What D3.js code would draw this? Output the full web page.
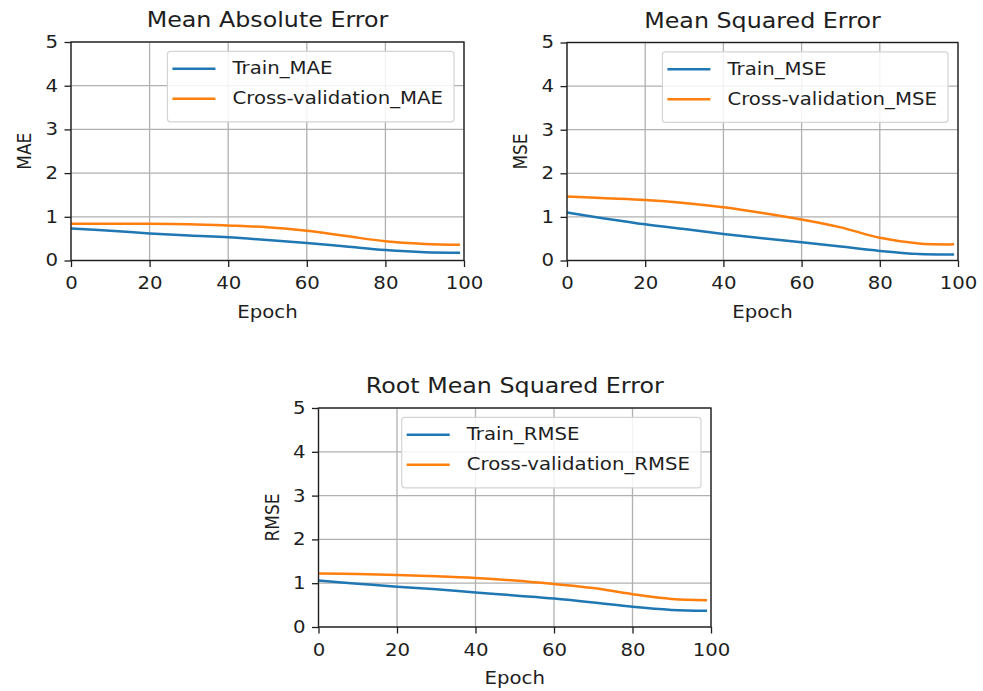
<!DOCTYPE html>
<html>
<head>
  <meta charset="utf-8">
  <script src="https://d3js.org/d3.v7.min.js"></script>
  <style>
    body { margin: 0; background: #fff; }
    svg { font-family: "DejaVu Sans", sans-serif; }
  </style>
</head>
<body>
  <div id="chart"></div>

  <script>
// epochs
const epochs = [0, 10, 20, 30, 40, 50, 60, 70, 80, 90, 99];

const maeTrain = [0.73, 0.68, 0.62, 0.57, 0.53, 0.47, 0.40, 0.32, 0.24, 0.19, 0.18];
const maeVal   = [0.84, 0.84, 0.84, 0.83, 0.80, 0.76, 0.68, 0.56, 0.44, 0.38, 0.36];

const mseTrain = [1.10, 0.96, 0.83, 0.72, 0.61, 0.51, 0.42, 0.32, 0.22, 0.15, 0.14];
const mseVal   = [1.47, 1.43, 1.39, 1.32, 1.22, 1.09, 0.94, 0.76, 0.52, 0.39, 0.37];

const rmseTrain = [1.06, 0.99, 0.92, 0.86, 0.79, 0.72, 0.65, 0.56, 0.46, 0.39, 0.37];
const rmseVal   = [1.22, 1.21, 1.19, 1.16, 1.12, 1.06, 0.98, 0.89, 0.75, 0.64, 0.61];

const xTicks = [0, 20, 40, 60, 80, 100];
const yTicks = [0, 1, 2, 3, 4, 5];

const titles  = ["Mean Absolute Error", "Mean Squared Error", "Root Mean Squared Error"];
const yLabels = ["MAE", "MSE", "RMSE"];
const trainNames = ["Train_MAE", "Train_MSE", "Train_RMSE"];
const valNames   = ["Cross-validation_MAE", "Cross-validation_MSE", "Cross-validation_RMSE"];
const trainSeries = [maeTrain, mseTrain, rmseTrain];
const valSeries   = [maeVal, mseVal, rmseVal];

// where each subplot sits
const layout = [
  { left: 71,    top: 42,  width: 393,   height: 218.5 },
  { left: 567,   top: 42.5, width: 391,  height: 218 },
  { left: 318.5, top: 408, width: 392.5, height: 219 }
];

const blue = "#1f77b4";
const orange = "#ff7f0e";
const ink = "#1e1e1e";
const SX = 1.16; // source picture is a bit wider than tall, stretch text to match

const svg = d3.select("#chart")
  .append("svg")
  .attr("width", 983)
  .attr("height", 691);

layout.forEach((box, i) => {
  const g = svg.append("g")
    .attr("transform", `translate(${box.left}, ${box.top})`);

  const x = d3.scaleLinear().domain([0, 100]).range([0, box.width]);
  const y = d3.scaleLinear().domain([0, 5]).range([box.height, 0]);

  // grid
  g.selectAll(".vgrid")
    .data(xTicks)
    .enter()
    .append("line")
    .attr("x1", d => x(d)).attr("x2", d => x(d))
    .attr("y1", 0).attr("y2", box.height)
    .attr("stroke", "#b0b0b0")
    .attr("stroke-width", 1.3);

  g.selectAll(".hgrid")
    .data(yTicks)
    .enter()
    .append("line")
    .attr("x1", 0).attr("x2", box.width)
    .attr("y1", d => y(d)).attr("y2", d => y(d))
    .attr("stroke", "#b0b0b0")
    .attr("stroke-width", 1.3);

  // lines
  const line = d3.line()
    .x((d, j) => x(epochs[j]))
    .y(d => y(d))
    .curve(d3.curveCatmullRom.alpha(0.5));

  [[trainSeries[i], blue], [valSeries[i], orange]].forEach(([vals, col]) => {
    g.append("path")
      .datum(vals)
      .attr("fill", "none")
      .attr("stroke", col)
      .attr("stroke-width", 2.5)
      .attr("d", line);
  });

  // axes
  const xAxis = g.append("g")
    .attr("transform", `translate(0, ${box.height})`)
    .call(d3.axisBottom(x).tickValues(xTicks).tickSize(6.5).tickSizeOuter(0));
  xAxis.selectAll("text")
    .attr("y", 29)
    .attr("dy", null)
    .attr("transform", `scale(${SX},1)`);

  const yAxis = g.append("g")
    .call(d3.axisLeft(y).tickValues(yTicks).tickSize(6.5).tickSizeOuter(0).tickFormat(d3.format("d")));
  yAxis.selectAll("text")
    .attr("x", -13 / SX)
    .attr("transform", `scale(${SX},1)`);

  [xAxis, yAxis].forEach(a => {
    a.select(".domain").remove();
    a.selectAll("line").attr("stroke", ink).attr("stroke-width", 1.3);
    a.selectAll("text")
      .attr("fill", ink)
      .style("font-size", "17px")
      .style("font-family", "DejaVu Sans");
  });

  // frame
  g.append("rect")
    .attr("width", box.width)
    .attr("height", box.height)
    .attr("fill", "none")
    .attr("stroke", ink)
    .attr("stroke-width", 1.3);

  // title and labels
  g.append("text")
    .attr("text-anchor", "middle")
    .attr("transform", `translate(${box.width / 2}, -15) scale(${SX},1)`)
    .attr("fill", ink)
    .style("font-size", "20.5px")
    .text(titles[i]);

  g.append("text")
    .attr("text-anchor", "middle")
    .attr("transform", `translate(${box.width / 2}, ${box.height + 57}) scale(${SX},1)`)
    .attr("fill", ink)
    .style("font-size", "17px")
    .text("Epoch");

  g.append("text")
    .attr("text-anchor", "middle")
    .attr("transform", `translate(-40, ${box.height / 2}) rotate(-90) scale(1,${SX})`)
    .attr("fill", ink)
    .style("font-size", "17px")
    .text(yLabels[i]);

  // legend, upper right
  const leg = g.append("g");
  const rows = [[trainNames[i], blue], [valNames[i], orange]];
  const texts = rows.map(([name], r) => leg.append("text")
    .attr("fill", ink)
    .style("font-size", "17px")
    .attr("dy", "0.35em")
    .text(name));
  const textW = d3.max(texts, t => t.node().getComputedTextLength()) * SX;
  const legW = 5 + 43 + 17 + textW + 11;
  const legH = 70.5;
  const legX = box.width - 10 - legW;
  const legY = 9.3;

  leg.insert("rect", "text")
    .attr("x", legX).attr("y", legY)
    .attr("width", legW).attr("height", legH)
    .attr("rx", 3)
    .attr("fill", "#fff")
    .attr("fill-opacity", 0.85)
    .attr("stroke", "#d4d4d4")
    .attr("stroke-width", 1.2);

  rows.forEach(([name, col], r) => {
    const cy = legY + 17.5 + r * 30;
    leg.append("line")
      .attr("x1", legX + 5).attr("x2", legX + 48)
      .attr("y1", cy).attr("y2", cy)
      .attr("stroke", col)
      .attr("stroke-width", 2.5);
    texts[r].attr("transform", `translate(${legX + 65}, ${cy - 0.5}) scale(${SX},1)`);
  });
});
  </script>
</body>
</html>
